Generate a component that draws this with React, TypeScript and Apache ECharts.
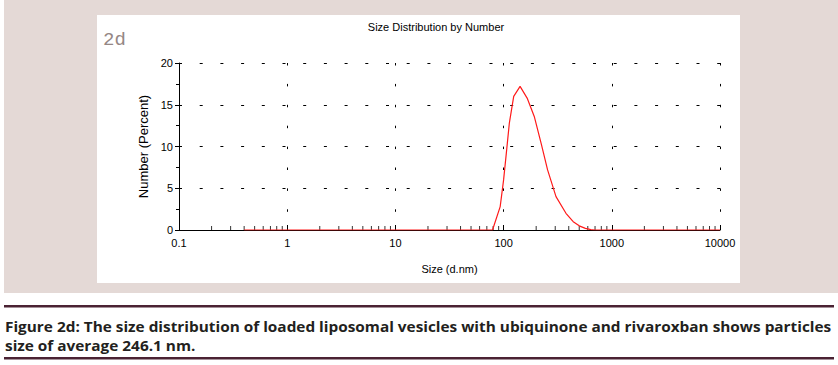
import React, { useEffect, useRef } from "react";
import * as echarts from "echarts";

// Size distribution by number (Zetasizer-like readout)
const sizesNm = [0.4, 79, 93, 100, 106, 113, 124, 142, 165, 192, 222, 255, 305, 377, 440, 500, 570, 640, 700, 10000];
const numberPercent = [0, 0, 2.8, 6.0, 9.2, 12.8, 16.0, 17.2, 15.8, 13.6, 10.4, 7.2, 4.0, 2.0, 1.0, 0.5, 0.2, 0.05, 0, 0];

const decades = [0.1, 1, 10, 100, 1000];
const minorMultipliers = [2, 3, 4, 5, 6, 7, 8, 9];

const titleText = "Size Distribution by Number";
const panelLabel = "2d";
const xAxisName = "Size (d.nm)";
const yAxisName = "Number (Percent)";
const captionLine1 = "Figure 2d: The size distribution of loaded liposomal vesicles with ubiquinone and rivaroxban shows particles";
const captionLine2 = "size of average 246.1 nm.";

export default function App() {
  const ref = useRef<HTMLDivElement>(null);
  useEffect(() => {
    if (!ref.current) return;
    const chart = echarts.init(ref.current, undefined, { renderer: "svg" });

    const minorTicks: number[][] = [];
    decades.forEach((d) => minorMultipliers.forEach((m) => minorTicks.push([d * m, 0])));

    const captionFamily = "Open Sans";
    const captionSize = 15;
    let scale = 1;
    try {
      const ctx = document.createElement("canvas").getContext("2d");
      if (ctx) {
        ctx.font = `bold ${captionSize}px "${captionFamily}"`;
        const w = ctx.measureText(captionLine1).width;
        if (w > 0) scale = 827 / w;
      }
    } catch (e) {}

    const axisFont = "Liberation Sans, Arial, sans-serif";

    chart.setOption({
      animation: false,
      backgroundColor: "#ffffff",
      grid: { left: 179, right: 118, top: 63, bottom: 135, containLabel: false },
      xAxis: {
        type: "log",
        logBase: 10,
        min: 0.1,
        max: 10000,
        name: xAxisName,
        nameLocation: "middle",
        nameGap: 33,
        nameTextStyle: { color: "#000", fontSize: 11, fontFamily: axisFont },
        axisLine: { lineStyle: { color: "#000", width: 1 } },
        axisTick: { show: true, inside: true, length: 5, lineStyle: { color: "#000" } },
        axisLabel: {
          color: "#000",
          fontSize: 11,
          fontFamily: axisFont,
          margin: 7,
          formatter: (v: number) => (v < 1 ? v.toFixed(1) : String(Math.round(v))),
        },
        splitLine: { show: true, lineStyle: { color: "#000", width: 1, type: [2.5, 18.4] } },
      },
      yAxis: {
        type: "value",
        min: 0,
        max: 20,
        interval: 5,
        name: yAxisName,
        nameLocation: "middle",
        nameGap: 27,
        nameTextStyle: { color: "#000", fontSize: 13, fontFamily: axisFont },
        axisLine: { show: true, lineStyle: { color: "#000", width: 1 } },
        axisTick: { show: true, length: 4, lineStyle: { color: "#000" } },
        minorTick: { show: true, splitNumber: 2, length: 3, lineStyle: { color: "#000" } },
        axisLabel: { color: "#000", fontSize: 11, fontFamily: axisFont, margin: 6 },
        splitLine: { show: true, lineStyle: { color: "#000", width: 1, type: [3, 17.7] } },
      },
      graphic: [
        { type: "rect", z: -20, silent: true, shape: { x: 4, y: 0, width: 834, height: 293 }, style: { fill: "#e4d9d6" } },
        { type: "rect", z: -19, silent: true, shape: { x: 97, y: 15, width: 643, height: 268 }, style: { fill: "#ffffff" } },
        {
          type: "text", x: 103, y: 30, z: 5,
          style: { text: panelLabel, fontFamily: "Courier New, Liberation Mono, DejaVu Sans Mono, monospace", fontSize: 19, fill: "#958785" },
        },
        {
          type: "text", x: 436, y: 27, z: 5,
          style: { text: titleText, fontFamily: axisFont, fontSize: 11, fill: "#000", align: "center", verticalAlign: "middle" },
        },
        { type: "rect", z: 5, shape: { x: 4, y: 305, width: 830, height: 2.5 }, style: { fill: "#4a2233" } },
        { type: "rect", z: 5, shape: { x: 4, y: 357, width: 830, height: 2.5 }, style: { fill: "#4a2233" } },
        {
          type: "text", x: 5, y: 326, scaleX: scale, z: 5,
          style: { text: captionLine1, fontFamily: captionFamily, fontWeight: "bold", fontSize: captionSize, fill: "#231f20", verticalAlign: "middle" },
        },
        {
          type: "text", x: 5, y: 345, scaleX: scale, z: 5,
          style: { text: captionLine2, fontFamily: captionFamily, fontWeight: "bold", fontSize: captionSize, fill: "#231f20", verticalAlign: "middle" },
        },
      ],
      series: [
        {
          type: "scatter",
          data: minorTicks,
          symbol: "rect",
          symbolSize: [1, 4],
          symbolOffset: [0, -2],
          itemStyle: { color: "#000" },
          silent: true,
          z: 1,
        },
        {
          type: "line",
          data: sizesNm.map((s, i) => [s, numberPercent[i]]),
          showSymbol: false,
          symbol: "none",
          lineStyle: { color: "#ff1a1a", width: 1.2 },
          z: 3,
        },
      ],
    });
    return () => chart.dispose();
  }, []);
  return (
    <div
      ref={ref}
      style={{ position: "fixed", left: 0, top: 0, width: 838, height: 365 }}
    />
  );
}
